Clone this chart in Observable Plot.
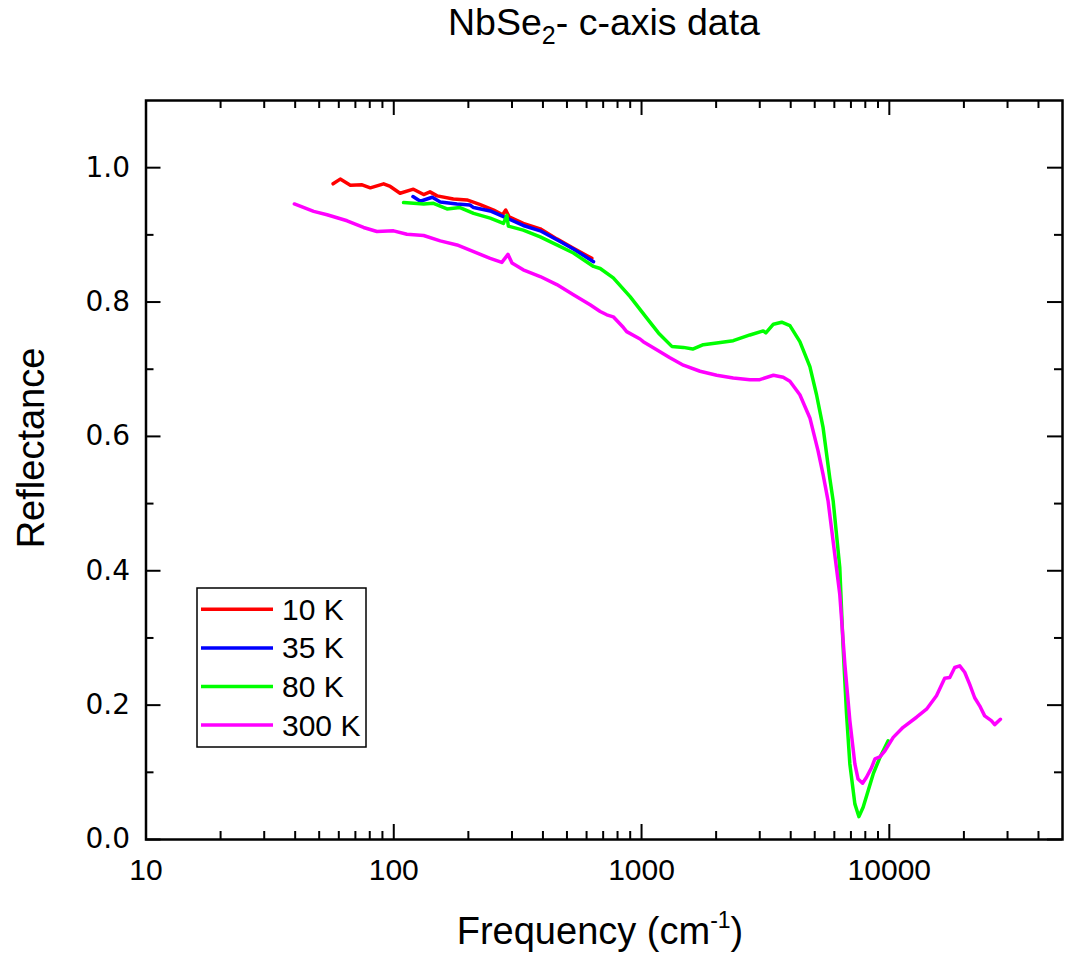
<!DOCTYPE html>
<html><head><meta charset="utf-8">
<script src="https://cdn.jsdelivr.net/npm/d3@7"></script>
<script src="https://cdn.jsdelivr.net/npm/@observablehq/plot@0.6"></script>
<style>body{margin:0;background:#fff}#chart{width:1069px;height:956px}</style>
</head><body><div id="chart"></div>
<script>
const seriesNames = ["10 K", "35 K", "80 K", "300 K"];
const seriesColors = ["#ff0000", "#0000ff", "#00ff00", "#ff00ff"];

const freq10 = [56.9, 60.8, 66.8, 74.5, 80.4, 91, 96.8, 106, 120, 132, 140, 149.6, 174, 197.4, 222, 253, 275, 283, 292, 333, 390, 455, 531, 630];
const refl10 = [0.976, 0.983, 0.974, 0.9745, 0.970, 0.976, 0.972, 0.962, 0.968, 0.960, 0.964, 0.958, 0.9535, 0.952, 0.9455, 0.937, 0.930, 0.937, 0.927, 0.917, 0.909, 0.894, 0.880, 0.865];

const freq35 = [119.5, 128, 143, 154, 180, 203, 210, 245, 286, 333, 390, 469, 531, 640];
const refl35 = [0.957, 0.950, 0.956, 0.949, 0.946, 0.9445, 0.9406, 0.9356, 0.925, 0.914, 0.906, 0.890, 0.879, 0.860];

const freq80 = [109.5, 132, 144.6, 164, 185, 210, 245, 277, 286, 290, 333, 390, 455, 531, 640, 681, 769, 899, 1050, 1170, 1325, 1475, 1609, 1775, 2010, 2345, 2738, 3098, 3175, 3406, 3677, 3970, 4355, 4780, 5085, 5405, 5750, 5935, 6310, 6510, 6720, 6930, 7260, 7540, 7840, 8220, 8610, 9160, 9890];
const refl80 = [0.948, 0.946, 0.947, 0.9386, 0.9406, 0.932, 0.925, 0.917, 0.929, 0.913, 0.907, 0.897, 0.885, 0.873, 0.853, 0.850, 0.836, 0.808, 0.776, 0.754, 0.734, 0.7325, 0.730, 0.7365, 0.739, 0.7425, 0.751, 0.757, 0.754, 0.767, 0.770, 0.765, 0.741, 0.704, 0.662, 0.613, 0.538, 0.504, 0.405, 0.286, 0.187, 0.1125, 0.053, 0.034, 0.048, 0.073, 0.0976, 0.122, 0.147];

const freq300 = [39.7, 47.5, 53.8, 64.8, 75.5, 85.5, 99.8, 113, 132, 154, 180, 210, 245, 273, 289, 300, 333, 390, 455, 531, 620, 681, 724, 769, 845, 871, 986, 1016, 1151, 1302, 1475, 1722, 2010, 2345, 2738, 3000, 3406, 3730, 3970, 4355, 4780, 5160, 5405, 5660, 6310, 6615, 6930, 7260, 7480, 7800, 8090, 8480, 8750, 9160, 9600, 10370, 11370, 12880, 14130, 15500, 16730, 17540, 18370, 19240, 20150, 21110, 22110, 23160, 24260, 25800, 26630, 28080];
const refl300 = [0.946, 0.935, 0.930, 0.921, 0.911, 0.905, 0.906, 0.901, 0.899, 0.891, 0.885, 0.875, 0.865, 0.859, 0.871, 0.858, 0.848, 0.838, 0.826, 0.811, 0.796, 0.786, 0.781, 0.778, 0.762, 0.756, 0.745, 0.741, 0.729, 0.717, 0.706, 0.697, 0.691, 0.687, 0.6845, 0.6845, 0.691, 0.688, 0.682, 0.662, 0.6275, 0.578, 0.543, 0.504, 0.365, 0.261, 0.177, 0.1125, 0.090, 0.0837, 0.0926, 0.107, 0.120, 0.123, 0.132, 0.152, 0.167, 0.182, 0.194, 0.214, 0.240, 0.241, 0.256, 0.2585, 0.249, 0.231, 0.211, 0.199, 0.184, 0.177, 0.171, 0.179];

const xTicks = [10, 100, 1000, 10000];
const xMinorTicks = [20, 30, 40, 50, 60, 70, 80, 90, 200, 300, 400, 500, 600, 700, 800, 900, 2000, 3000, 4000, 5000, 6000, 7000, 8000, 9000, 20000, 30000, 40000];
const yTicks = [0, 0.2, 0.4, 0.6, 0.8, 1.0];
const yMinorTicks = [0.1, 0.3, 0.5, 0.7, 0.9];

const titleMain = "NbSe";
const titleSub = "2";
const titleRest = "- c-axis data";
const xLabel = "Frequency (cm";
const xLabelSup = "-1";
const yLabel = "Reflectance";

const freqs = [freq10, freq35, freq80, freq300];
const refls = [refl10, refl35, refl80, refl300];
const rows = seriesNames.map((s, i) => freqs[i].map((f, j) => ({series: s, freq: f, R: refls[i][j]})));

const W = 1069, H = 956, mL = 145.5, mR = 7, mT = 100, mB = 117;
const iw = W - mL - mR, ih = H - mT - mB;
const major = 15, minor = 8;

const plot = Plot.plot({
  width: W, height: H,
  marginLeft: mL, marginRight: mR, marginTop: mT, marginBottom: mB,
  x: {type: "log", domain: [10, 50000]},
  y: {domain: [0, 1.1]},
  color: {domain: seriesNames, range: seriesColors},
  style: {background: "white", fontFamily: "Liberation Sans, Arial, sans-serif"},
  marks: [
    ...rows.map(r => Plot.line(r, {x: "freq", y: "R", stroke: "series", strokeWidth: 3.5})),
    Plot.tickX(xTicks, {x: d => d, insetTop: ih - major, strokeWidth: 2}),
    Plot.tickX(xTicks, {x: d => d, insetBottom: ih - major, strokeWidth: 2}),
    Plot.tickX(xMinorTicks, {x: d => d, insetTop: ih - minor, strokeWidth: 2}),
    Plot.tickX(xMinorTicks, {x: d => d, insetBottom: ih - minor, strokeWidth: 2}),
    Plot.tickY(yTicks, {y: d => d, insetRight: iw - major, strokeWidth: 2}),
    Plot.tickY(yTicks, {y: d => d, insetLeft: iw - major, strokeWidth: 2}),
    Plot.tickY(yMinorTicks, {y: d => d, insetRight: iw - minor, strokeWidth: 2}),
    Plot.tickY(yMinorTicks, {y: d => d, insetLeft: iw - minor, strokeWidth: 2}),
    Plot.frame({stroke: "black", strokeWidth: 2.5}),
    Plot.axisX(xTicks, {tickSize: 0, tickPadding: 19, tickFormat: d => String(d), fontSize: 30, fontFamily: "Liberation Sans", fill: "black", label: null}),
    Plot.axisY(yTicks, {tickSize: 0, tickPadding: 16, tickFormat: d3.format(".1f"), fontSize: 28, fontFamily: "DejaVu Sans", fill: "black", label: null})
  ]
});

const svg = d3.select(plot);
svg.selectAll("text").attr("fill", "black");
const t = svg.append("text").attr("x", 604).attr("y", 35).attr("text-anchor", "middle")
  .attr("font-family", "Liberation Sans").attr("font-size", 37.5).attr("fill", "black");
t.append("tspan").text(titleMain);
t.append("tspan").attr("font-size", 25).attr("dy", 9).text(titleSub);
t.append("tspan").attr("dy", -9).text(titleRest);

const xl = svg.append("text").attr("x", 600).attr("y", 944).attr("text-anchor", "middle")
  .attr("font-family", "Liberation Sans").attr("font-size", 38).attr("fill", "black");
xl.append("tspan").text(xLabel);
xl.append("tspan").attr("font-size", 23).attr("dy", -16).text(xLabelSup);
xl.append("tspan").attr("dy", 16).text(")");

svg.append("text").attr("transform", "translate(44,448) rotate(-90)").attr("text-anchor", "middle")
  .attr("font-family", "Liberation Sans").attr("font-size", 38).attr("fill", "black").text(yLabel);

const lg = svg.append("g");
lg.append("rect").attr("x", 197).attr("y", 588).attr("width", 169).attr("height", 159)
  .attr("fill", "white").attr("stroke", "black").attr("stroke-width", 1.5);
seriesNames.forEach((s, i) => {
  const yy = 609.3 + i * 38.6;
  lg.append("line").attr("x1", 201).attr("x2", 273).attr("y1", yy).attr("y2", yy)
    .attr("stroke", seriesColors[i]).attr("stroke-width", 3.5);
  lg.append("text").attr("x", 282).attr("y", yy + 10.5).attr("text-anchor", "start")
    .attr("font-family", "Liberation Sans").attr("font-size", 30).attr("fill", "black").text(s);
});

document.getElementById("chart").appendChild(plot);
</script></body></html>
